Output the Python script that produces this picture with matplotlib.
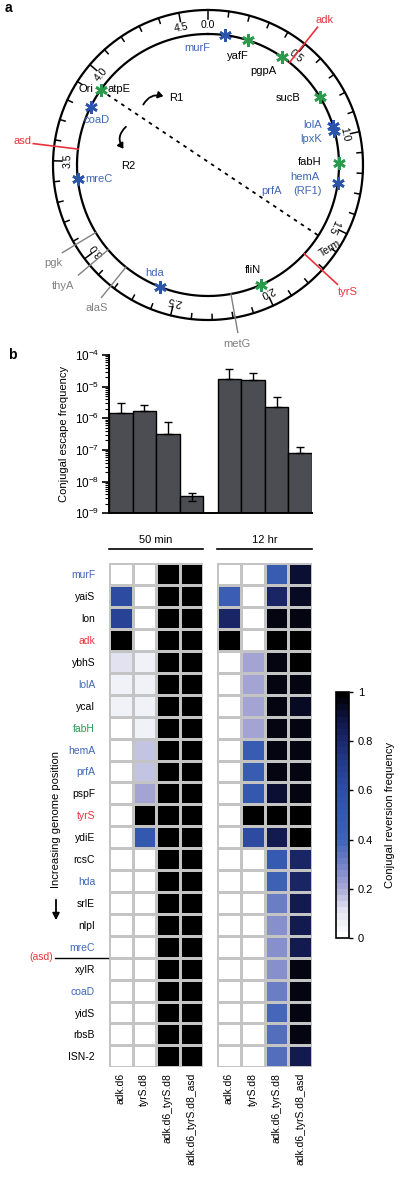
import numpy as np
import matplotlib
matplotlib.use('Agg')
import matplotlib.pyplot as plt
from matplotlib.colors import LinearSegmentedColormap, Normalize
from matplotlib.cm import ScalarMappable
from matplotlib.patches import FancyArrowPatch

plt.rcParams['font.family'] = ['Liberation Sans', 'DejaVu Sans']
plt.rcParams['mathtext.default'] = 'regular'

W, H = 400, 1178
GENOME = 4.64

BLUE = '#3f67b8'
STAR_BLUE = '#2a55aa'
GREEN = '#2b9a4c'
RED = '#e8333c'
GRAY = '#808080'

# ---- panel a data: genome map (positions in Mb) ----
star_genes = ['murF', 'yafF', 'pgpA', 'sucB', 'lolA', 'lpxK', 'fabH', 'hemA',
              'fliN', 'hda', 'mreC', 'coaD', 'atpE']
star_mb = [0.096, 0.23, 0.44, 0.756, 0.935, 0.965, 1.15, 1.26,
           2.01, 2.60, 3.40, 3.82, 3.93]
star_kind = ['b', 'g', 'g', 'g', 'b', 'b', 'g', 'b', 'g', 'b', 'b', 'b', 'g']

line_genes = ['adk', 'tyrS', 'asd', 'metG', 'alaS', 'thyA', 'pgk']
line_mb = [0.496, 1.71, 3.57, 2.19, 2.82, 2.96, 3.08]
line_kind = ['r', 'r', 'r', 'k', 'k', 'k', 'k']

ori_mb = 3.93
term_mb = 1.58
scale_ticks = np.arange(0, 46) / 10.0

# ---- panel b data ----
strains = ['adk.d6', 'tyrS.d8', 'adk.d6_tyrS.d8', 'adk.d6_tyrS.d8_asd']
escape_50min = [1.5e-6, 1.74e-6, 3.1e-7, 2.5e-9]
escape_50min_err = [2.97e-6, 2.63e-6, 7.8e-7, 4.5e-9]
escape_12hr = [1.79e-5, 1.62e-5, 2.2e-6, 7.8e-8]
escape_12hr_err = [3.5e-5, 2.77e-5, 4.6e-6, 1.27e-7]

rows = ['murF', 'yaiS', 'lon', 'adk', 'ybhS', 'lolA', 'ycaI', 'fabH', 'hemA',
        'prfA', 'pspF', 'tyrS', 'ydiE', 'rcsC', 'hda', 'srlE', 'nlpI', 'mreC',
        'xylR', 'coaD', 'yidS', 'rbsB', 'ISN-2']
row_kind = ['b', 'k', 'k', 'r', 'k', 'b', 'k', 'g', 'b', 'b', 'k', 'r', 'k',
            'k', 'b', 'k', 'k', 'b', 'k', 'b', 'k', 'k', 'k']

rev_50min = [
    [0, 0, 1, 1], [0.6, 0, 1, 1], [0.65, 0, 1, 1], [1, 0, 1, 1],
    [0.1, 0.05, 1, 1], [0.05, 0.05, 1, 1], [0.05, 0.05, 1, 1], [0, 0.05, 1, 1],
    [0, 0.17, 1, 1], [0, 0.17, 1, 1], [0, 0.2, 1, 1], [0, 1, 1, 1],
    [0, 0.5, 1, 1], [0, 0, 1, 1], [0, 0, 1, 1], [0, 0, 1, 1],
    [0, 0, 1, 1], [0, 0, 1, 1], [0, 0, 1, 1], [0, 0, 1, 1],
    [0, 0, 1, 1], [0, 0, 1, 1], [0, 0, 1, 1]]
rev_12hr = [
    [0, 0, 0.47, 0.92], [0.44, 0, 0.82, 0.93], [0.8, 0, 0.97, 0.97], [1, 0, 0.98, 0.98],
    [0, 0.22, 0.97, 0.98], [0, 0.22, 0.95, 0.97], [0, 0.22, 0.95, 0.93], [0, 0.22, 0.97, 0.97],
    [0, 0.47, 0.95, 0.97], [0, 0.47, 0.95, 0.97], [0, 0.5, 0.92, 0.97], [0, 1, 1, 1],
    [0, 0.6, 0.85, 0.99], [0, 0, 0.48, 0.82], [0, 0, 0.42, 0.82], [0, 0, 0.3, 0.86],
    [0, 0, 0.25, 0.86], [0, 0, 0.25, 0.86], [0, 0, 0.26, 0.97], [0, 0, 0.3, 0.97],
    [0, 0, 0.38, 0.97], [0, 0, 0.37, 0.95], [0, 0, 0.37, 0.85]]

text_col = {'b': BLUE, 'g': GREEN, 'r': RED, 'k': 'black'}


def box(x0, y0, x1, y1):
    return [x0 / W, 1 - y1 / H, (x1 - x0) / W, (y1 - y0) / H]


def pol(mb, r):
    th = np.radians(np.asarray(mb) / GENOME * 360.0)
    return r * np.sin(th), r * np.cos(th)


def px(x, y):
    # image pixel -> circle axes coords (centre at 208,165)
    return x - 208, 165 - y


fig = plt.figure(figsize=(W / 100, H / 100), dpi=100)

# ================= panel a =================
ax = fig.add_axes(box(0, 0, 400, 360))
ax.set_xlim(-208, 192)
ax.set_ylim(-195, 165)
ax.axis('off')

R_OUT, R_IN = 155, 131
t = np.linspace(0, GENOME, 500)
for r in (R_OUT, R_IN):
    x, y = pol(t, r)
    ax.plot(x, y, color='black', lw=1.6, zorder=2)

for mb in scale_ticks:
    major = abs(mb * 2 - round(mb * 2)) < 1e-6
    ln = 9 if major else 5.5
    x0, y0 = pol(mb, R_OUT)
    x1, y1 = pol(mb, R_OUT - ln)
    ax.plot([x0, x1], [y0, y1], color='black', lw=1.1)
    if major:
        lx, ly = pol(mb, R_OUT - 15)
        ax.text(lx, ly, '%.1f' % mb, rotation=-mb / GENOME * 360, fontsize=7.5,
                ha='center', va='center', rotation_mode='anchor')

# ori-term dashed line
ox, oy = pol(ori_mb, R_IN)
tx, ty = pol(term_mb, R_IN)
ax.plot([ox, tx], [oy, ty], color='black', lw=1.3, ls=(0, (2, 2.6)))

# radial lines
for g, mb, k in zip(line_genes, line_mb, line_kind):
    c = RED if k == 'r' else GRAY
    r1 = 176 if k == 'r' else 170
    x0, y0 = pol(mb, R_IN)
    x1, y1 = pol(mb, r1)
    ax.plot([x0, x1], [y0, y1], color=c, lw=1.2 if k == 'r' else 1.0, zorder=3)

# stars
for g, mb, k in zip(star_genes, star_mb, star_kind):
    x, y = pol(mb, R_IN)
    ax.plot(x, y, marker=(6, 2, 0), ms=9, mew=1.9,
            color=STAR_BLUE if k == 'b' else GREEN, zorder=4)

gene_label_px = {
    'murF': (197, 48, 'center'), 'yafF': (238, 56, 'center'),
    'pgpA': (263, 71, 'center'), 'sucB': (300, 98, 'right'),
    'lolA': (322, 125, 'right'), 'lpxK': (322, 139, 'right'),
    'fabH': (321, 162, 'right'), 'hemA': (305, 177, 'center'),
    'fliN': (253, 270, 'center'), 'hda': (155, 273, 'center'),
    'mreC': (85, 179, 'left'), 'coaD': (97, 120, 'center'),
    'atpE': (108, 89, 'left'),
    'adk': (325, 20, 'center'), 'tyrS': (348, 292, 'center'),
    'asd': (23, 141, 'center'), 'metG': (237, 344, 'center'),
    'alaS': (97, 308, 'center'), 'thyA': (63, 286, 'center'),
    'pgk': (53, 263, 'center'),
}
for g, k in list(zip(star_genes, star_kind)) + list(zip(line_genes, line_kind)):
    xp, yp, ha = gene_label_px[g]
    if g in line_genes:
        c = RED if k == 'r' else GRAY
    else:
        c = BLUE if k == 'b' else 'black'
    ax.text(*px(xp, yp), g, color=c, fontsize=8, ha=ha, va='center')

ax.text(*px(272, 191), 'prfA', color=BLUE, fontsize=8, ha='center', va='center')
ax.text(*px(308, 191), '(RF1)', color=BLUE, fontsize=8, ha='center', va='center')
ax.text(*px(93, 89), 'Ori', color='black', fontsize=8, ha='right', va='center')
ax.text(*px(330, 248), 'Term', color='black', fontsize=7.5, ha='center',
        va='center', rotation=32)

# replication arrows
ax.add_patch(FancyArrowPatch(px(142, 107), px(166, 97), connectionstyle='arc3,rad=-0.45',
                             arrowstyle='-|>,head_length=3,head_width=2', lw=1.3, color='black'))
ax.text(*px(169, 98), 'R1', fontsize=8, ha='left', va='center')
ax.add_patch(FancyArrowPatch(px(128, 125), px(125, 151), connectionstyle='arc3,rad=0.5',
                             arrowstyle='-|>,head_length=3,head_width=2', lw=1.3, color='black'))
ax.text(*px(128, 166), 'R2', fontsize=8, ha='center', va='center')

fig.text(5 / W, 1 - 8 / H, 'a', fontsize=10, fontweight='bold', va='center')
fig.text(8 / W, 1 - 355 / H, 'b', fontsize=10, fontweight='bold', va='center')

# ================= panel b: bars =================
bx = fig.add_axes(box(109, 355, 312, 513.3))
pos1 = np.arange(4)
pos2 = np.arange(4) + 4.6
vals = escape_50min + escape_12hr
errs = [e - v for e, v in zip(escape_50min_err + escape_12hr_err, vals)]
bx.bar(np.concatenate([pos1, pos2]), vals, width=1, align='edge', color='#4b4d52',
       edgecolor='black', lw=1.0, bottom=1e-9)
bx.errorbar(np.concatenate([pos1, pos2]) + 0.5, vals,
            yerr=[np.zeros(8), errs], fmt='none', ecolor='black', elinewidth=1.0,
            capsize=3, capthick=1.0)
bx.set_yscale('log')
bx.set_ylim(1e-9, 1e-4)
bx.set_xlim(0, 8.6)
bx.set_xticks([])
for s in ('top', 'right'):
    bx.spines[s].set_visible(False)
bx.spines['left'].set_linewidth(1.4)
bx.spines['bottom'].set_linewidth(1.4)
bx.yaxis.set_major_locator(matplotlib.ticker.LogLocator(base=10, numticks=10))
bx.yaxis.set_minor_locator(matplotlib.ticker.LogLocator(base=10, subs=np.arange(2, 10), numticks=10))
bx.yaxis.set_minor_formatter(matplotlib.ticker.NullFormatter())
bx.tick_params(axis='y', which='major', length=5, width=1.2, labelsize=8.5, pad=2)
bx.tick_params(axis='y', which='minor', length=3, width=0.8)
bx.set_ylabel('Conjugal escape frequency', fontsize=8, labelpad=4)

# ================= panel b: heatmap =================
cmap = LinearSegmentedColormap.from_list('rev', [
    (0.0, '#ffffff'), (0.1, '#e4e4f2'), (0.2, '#a6a6d4'), (0.3, '#6f7fc6'),
    (0.4, '#3f62b7'), (0.5, '#3558b0'), (0.6, '#2d4ea5'), (0.7, '#253d8e'),
    (0.8, '#1c2a6e'), (0.9, '#0f1444'), (1.0, '#000000')], N=40)
norm = Normalize(0, 1)

n = len(rows)
for i, (data, label, xs) in enumerate([(rev_50min, '50 min', (109, 203)),
                                       (rev_12hr, '12 hr', (217, 312))]):
    hx = fig.add_axes(box(xs[0], 563.3, xs[1], 1067.3))
    hx.pcolormesh(np.array(data), cmap=cmap, norm=norm, edgecolors='#c4c4c4', linewidth=1.0)
    hx.set_ylim(n, 0)
    hx.set_xlim(0, 4)
    for s in hx.spines.values():
        s.set_visible(False)
    hx.set_xticks(np.arange(4) + 0.5)
    hx.set_xticklabels(strains, rotation=90, fontsize=7.5)
    hx.tick_params(length=0, pad=4)
    if i == 0:
        hx.set_yticks(np.arange(n) + 0.5)
        hx.set_yticklabels(rows, fontsize=7.5)
        for tl, k in zip(hx.get_yticklabels(), row_kind):
            tl.set_color(text_col[k])
        hx.tick_params(axis='y', pad=10)
    else:
        hx.set_yticks([])
    fig.text((xs[0] + xs[1]) / 2 / W, 1 - 540 / H, label, fontsize=8, ha='center', va='center')
    fig.add_artist(plt.Line2D([xs[0] / W, xs[1] / W], [1 - 549 / H, 1 - 549 / H],
                              color='black', lw=1.2))

# asd marker line and genome-direction arrow
fig.add_artist(plt.Line2D([55 / W, 108 / W], [1 - 957.5 / H, 1 - 957.5 / H], color='black', lw=1.0))
fig.text(53 / W, 1 - 957.5 / H, '(asd)', color=RED, fontsize=7.5, ha='right', va='center')
fig.text(56 / W, 1 - 820 / H, 'Increasing genome position', rotation=90, fontsize=8,
         ha='center', va='center')
fig.add_artist(FancyArrowPatch((56 / W, 1 - 897 / H), (56 / W, 1 - 923 / H),
                               transform=fig.transFigure, arrowstyle='-|>,head_length=4,head_width=2',
                               lw=1.3, color='black'))

# colorbar
cax = fig.add_axes(box(336, 692, 349, 938))
cb = fig.colorbar(ScalarMappable(norm=norm, cmap=cmap), cax=cax)
cb.set_ticks([0, 0.2, 0.4, 0.6, 0.8, 1])
cb.set_ticklabels(['0', '0.2', '0.4', '0.6', '0.8', '1'])
cb.outline.set_linewidth(1.2)
cax.tick_params(labelsize=8, length=3, width=1.0)
cb.set_label('Conjugal reversion frequency', fontsize=8, labelpad=8)

fig.savefig('out.png', dpi=100)
